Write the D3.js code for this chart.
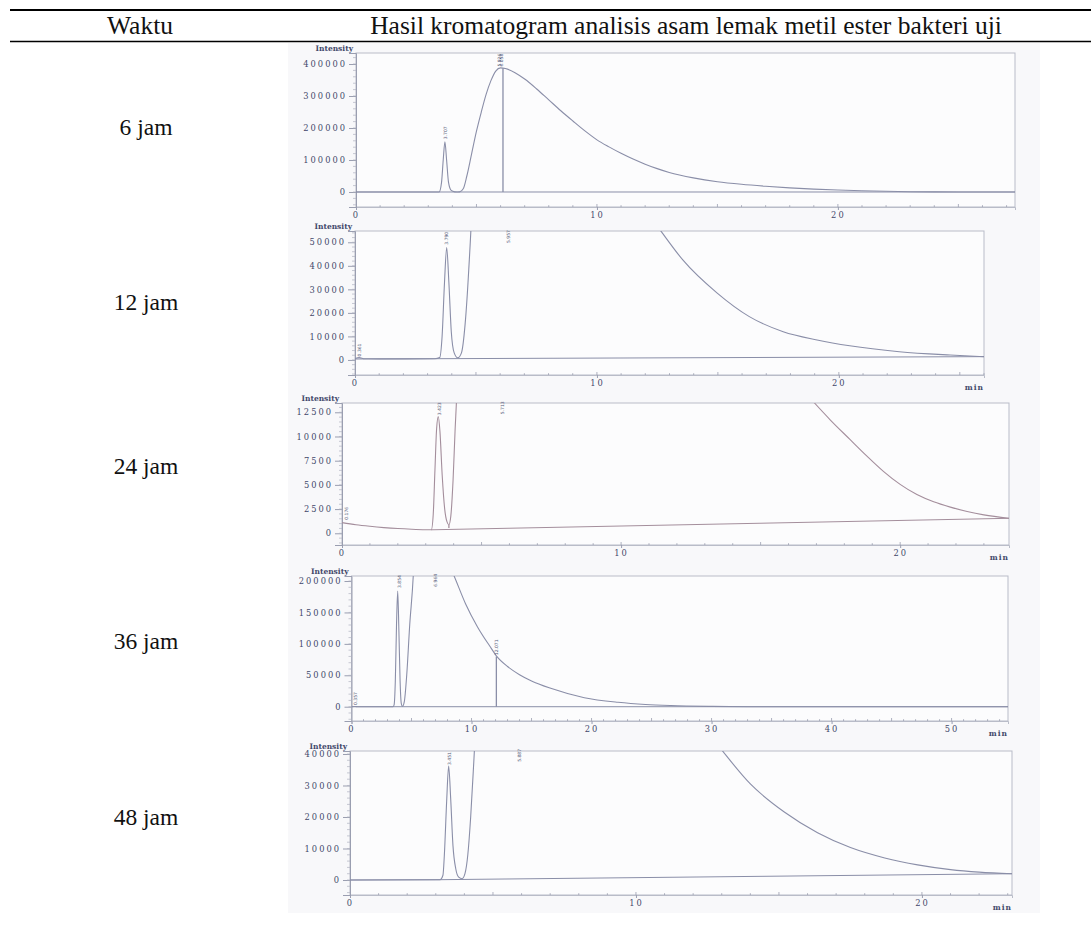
<!DOCTYPE html>
<html>
<head>
<meta charset="utf-8">
<script src="https://cdn.jsdelivr.net/npm/d3@7"></script>
<style>
  body { margin: 0; background: #fff; }
  .tick-label { font-family: "DejaVu Serif", serif; font-size: 8.3px; fill: #43486a; letter-spacing: 2px; }
  .axis-title { font-family: "DejaVu Serif", serif; font-size: 7.5px; font-weight: bold; fill: #43486a; }
  .peak-label { font-family: "DejaVu Sans", sans-serif; font-size: 4.5px; fill: #555a78; }
  .row-label { font-family: "Liberation Serif", "Times New Roman", serif; font-size: 23.5px; fill: #111; }
</style>
</head>
<body>
<svg id="chart"></svg>
<script>
// --- data ---
const headerLabels = ["Waktu", "Hasil kromatogram analisis asam lemak metil ester bakteri uji"];
const rowLabels = ["6 jam", "12 jam", "24 jam", "36 jam", "48 jam"];

// x domain (min) and y domain (intensity) of each chromatogram frame
const xDomains = [[0, 27.35], [0, 26.0], [0, 23.9], [0, 54.7], [0, 23.15]];
const yDomains = [[-46900, 434400], [-6400, 54800], [-1210, 13460], [-22750, 208000], [-4760, 40950]];

const yTicks = [
  [0, 100000, 200000, 300000, 400000],
  [0, 10000, 20000, 30000, 40000, 50000],
  [0, 2500, 5000, 7500, 10000, 12500],
  [0, 50000, 100000, 150000, 200000],
  [0, 10000, 20000, 30000, 40000]
];
const yMinorStep = [20000, 2000, 500, 10000, 2000];
const xTicks = [[0, 10, 20], [0, 10, 20], [0, 10, 20], [0, 10, 20, 30, 40, 50], [0, 10, 20]];
const showMin = [false, true, true, true, true];

// signal traces [time, intensity]
const signal6 = [[0,0],[3.3,0],[3.45,0],[3.55,30000],[3.62,100000],[3.69,157000],[3.76,100000],[3.84,30000],[3.95,5000],[4.1,500],[4.2,0],[4.3,500],[4.45,10000],[4.6,50000],[4.8,120000],[5.0,190000],[5.2,250000],[5.4,305000],[5.6,348000],[5.8,378000],[6.0,388000],[6.2,386000],[6.6,373000],[7,353000],[7.5,322000],[8,288000],[8.5,254000],[9,222000],[9.5,191000],[10,163000],[10.5,141000],[11,121000],[11.5,103000],[12,87000],[12.5,73000],[13,61000],[14,44000],[15,32000],[16,24000],[17,18000],[18,13000],[19,9000],[20,6000],[21,3800],[22,2100],[23,900],[24,250],[25,0],[27.35,0]];
const signal12 = [[0,600],[0.17,1000],[0.4,500],[1,450],[3.3,500],[3.5,1000],[3.6,10000],[3.7,33000],[3.79,47800],[3.88,33000],[3.98,12000],[4.1,3000],[4.25,900],[4.4,3000],[4.55,15000],[4.7,38000],[4.85,70000],[5.2,250000],[6.4,1500000],[10,120000],[11,84000],[12,64000],[12.7,54000],[13.55,42500],[14.96,28500],[16.3,18400],[17.7,12000],[19.1,8500],[20.45,6000],[22.5,3500],[24.6,2100],[26,1400]];
const signal24 = [[0,1100],[0.5,880],[1,720],[1.5,590],[2,490],[2.5,420],[3,370],[3.2,360],[3.27,2000],[3.33,6500],[3.39,10800],[3.45,12050],[3.51,10500],[3.59,6000],[3.68,2500],[3.76,1200],[3.83,880],[3.9,1800],[3.98,5500],[4.05,10500],[4.12,15000],[4.3,40000],[5.7,500000],[13,29000],[14,24000],[15,20000],[16,16500],[16.93,13460],[17.5,11700],[18.2,9700],[18.8,8000],[19.4,6400],[20,5050],[20.6,4000],[21.2,3250],[21.8,2700],[22.4,2250],[23,1900],[23.9,1550]];
const signal36 = [[0,0],[0.3,300],[0.5,0],[3.45,0],[3.55,3000],[3.65,40000],[3.75,130000],[3.85,184000],[3.95,120000],[4.05,40000],[4.15,5000],[4.25,500],[4.4,8000],[4.6,50000],[4.85,130000],[5.15,210000],[5.5,400000],[7.0,1500000],[8.0,232000],[8.55,208000],[9.5,164000],[10.5,127000],[11.5,97000],[12.07,81000],[13,64000],[14,51000],[15,41000],[16.6,29300],[19.4,14300],[22.2,7000],[24.5,3500],[26.6,1800],[30,500],[33,0],[54.7,0]];
const signal48 = [[0,0],[3.15,100],[3.25,1500],[3.3,8000],[3.38,25000],[3.45,36200],[3.52,26000],[3.6,11000],[3.7,3500],[3.8,900],[3.92,400],[4.02,2000],[4.12,8000],[4.22,20000],[4.32,36000],[4.4,50000],[5.9,1000000],[10,90000],[11,68000],[12,53000],[12.98,41500],[14.0,30500],[15.2,21500],[16.35,15000],[17.5,10300],[18.7,7000],[19.85,4800],[21.0,3300],[22,2500],[23.15,2000]];
const signals = [signal6, signal12, signal24, signal36, signal48];

// integration baselines drawn under the peaks
const baselines = [
  [[0,0],[27.35,0]],
  [[0,400],[26,1400]],
  [[3.2,360],[23.9,1550]],
  [[0,0],[54.7,0]],
  [[0,0],[3.15,100],[23.15,2000]]
];

// drop lines [time, from, to]
const drops = [
  [[6.1, 0, 387000]],
  [],
  [[3.83, 540, 880]],
  [[12.07, 0, 80000]],
  []
];

// retention-time labels [time, intensity at label foot, text]
const peakLabels = [
  [[3.7, 165000, "3.707"], [5.95, 392000, "5.926"], [6.05, 392000, "6.058"]],
  [[0.17, 1500, "0.361"], [3.79, 49000, "3.790"], [6.36, 49700, "5.957"]],
  [[0.17, 1400, "0.176"], [3.48, 12200, "3.423"], [5.75, 12300, "5.713"]],
  [[0.3, 2700, "0.357"], [3.96, 189000, "3.854"], [7.0, 191000, "6.964"], [12.1, 82000, "12.071"]],
  [[3.46, 36500, "3.451"], [5.91, 37500, "5.887"]]
];

// --- layout ---
const W = 1091, H = 925;
const frames = [
  { left: 356, right: 1015, top: 53, bottom: 207, labelY: 135 },
  { left: 355, right: 984, top: 231, bottom: 375, labelY: 310 },
  { left: 342, right: 1009, top: 403, bottom: 545, labelY: 474 },
  { left: 351.5, right: 1008, top: 576, bottom: 721, labelY: 649 },
  { left: 350, right: 1012, top: 751, bottom: 895, labelY: 825 }
];
const traceColors = ["#8a8ea8", "#8a8ea8", "#a48e9c", "#8a8ea8", "#8a8ea8"];

const d3 = window.d3;
const svg = d3.select("#chart").attr("width", W).attr("height", H);

svg.append("rect").attr("width", W).attr("height", H).attr("fill", "#fff");
// scanned picture area
svg.append("rect").attr("x", 288).attr("y", 43).attr("width", 752).attr("height", 870).attr("fill", "#f8f8fa");

// header
svg.append("line").attr("x1", 10).attr("x2", W).attr("y1", 10).attr("y2", 10)
  .attr("stroke", "#000").attr("stroke-width", 2);
svg.append("line").attr("x1", 10).attr("x2", W).attr("y1", 41.5).attr("y2", 41.5)
  .attr("stroke", "#000").attr("stroke-width", 1.6);
svg.append("text").attr("class", "row-label").attr("x", 140).attr("y", 34)
  .attr("text-anchor", "middle").style("font-size", "25.5px").text(headerLabels[0]);
svg.append("text").attr("class", "row-label").attr("x", 686).attr("y", 34)
  .attr("text-anchor", "middle").style("font-size", "25.5px").text(headerLabels[1]);

frames.forEach((f, i) => drawPanel(f, i));

function drawPanel(f, i) {
  const x = d3.scaleLinear().domain(xDomains[i]).range([f.left, f.right]);
  const y = d3.scaleLinear().domain(yDomains[i]).range([f.bottom, f.top]);
  const g = svg.append("g").attr("class", "panel");

  svg.append("text").attr("class", "row-label").attr("x", 146).attr("y", f.labelY)
    .attr("text-anchor", "middle").text(rowLabels[i]);

  g.append("rect").attr("x", f.left).attr("y", f.top)
    .attr("width", f.right - f.left).attr("height", f.bottom - f.top)
    .attr("fill", "#fcfcfd").attr("stroke", "#b9bcc8").attr("stroke-width", 1);

  // y axis
  const yAxis = d3.axisLeft(y).tickValues(yTicks[i]).tickSize(7).tickPadding(2).tickFormat(d3.format("d"));
  const ya = g.append("g").attr("transform", `translate(${f.left},0)`).call(yAxis);
  ya.select(".domain").attr("stroke", "#9a9eb0");
  ya.selectAll(".tick line").attr("stroke", "#9a9eb0");
  ya.selectAll(".tick text").attr("class", "tick-label").attr("font-family", null).attr("font-size", null).attr("fill", null);
  const minor = d3.range(Math.ceil(yDomains[i][0] / yMinorStep[i]) * yMinorStep[i], yDomains[i][1], yMinorStep[i]);
  g.selectAll(".yminor").data(minor).enter().append("line")
    .attr("x1", f.left - 3).attr("x2", f.left)
    .attr("y1", d => y(d)).attr("y2", d => y(d))
    .attr("stroke", "#b0b3c2").attr("stroke-width", 0.7);

  g.append("text").attr("class", "axis-title").attr("x", f.left - 3).attr("y", f.top - 2.5)
    .attr("text-anchor", "end").text("Intensity");

  // x axis
  const xAxis = d3.axisBottom(x).tickValues(xTicks[i]).tickSize(3).tickPadding(2).tickFormat(d3.format("d"));
  const xa = g.append("g").attr("transform", `translate(0,${f.bottom})`).call(xAxis);
  xa.select(".domain").attr("stroke", "#b9bcc8");
  xa.selectAll(".tick line").attr("stroke", "#9a9eb0");
  xa.selectAll(".tick text").attr("class", "tick-label").attr("font-family", null).attr("font-size", null).attr("fill", null);
  const xminor = d3.range(1, Math.floor(xDomains[i][1]) + 1);
  g.selectAll(".xminor").data(xminor).enter().append("line")
    .attr("x1", d => x(d)).attr("x2", d => x(d))
    .attr("y1", f.bottom).attr("y2", d => f.bottom - (d % 5 === 0 ? 3 : 1.8))
    .attr("stroke", "#9a9eb0").attr("stroke-width", 0.8);

  if (showMin[i]) {
    g.append("text").attr("class", "axis-title").attr("x", f.right).attr("y", f.bottom + 15)
      .attr("text-anchor", "end").style("letter-spacing", "1px").text("min");
  }

  // traces, clipped to the frame
  const clipId = "clip" + i;
  svg.append("clipPath").attr("id", clipId).append("rect")
    .attr("x", f.left).attr("y", f.top).attr("width", f.right - f.left).attr("height", f.bottom - f.top);
  const plot = g.append("g").attr("clip-path", `url(#${clipId})`);

  plot.append("path").datum(baselines[i])
    .attr("fill", "none").attr("stroke", traceColors[i]).attr("stroke-width", 1)
    .attr("d", d3.line().x(d => x(d[0])).y(d => y(d[1])));

  plot.append("path").datum(signals[i])
    .attr("fill", "none").attr("stroke", traceColors[i]).attr("stroke-width", 1.1)
    .attr("stroke-linejoin", "round")
    .attr("d", d3.line().curve(d3.curveMonotoneX).x(d => x(d[0])).y(d => y(d[1])));

  plot.selectAll(".drop").data(drops[i]).enter().append("line")
    .attr("x1", d => x(d[0])).attr("x2", d => x(d[0]))
    .attr("y1", d => y(d[1])).attr("y2", d => y(d[2]))
    .attr("stroke", traceColors[i]).attr("stroke-width", 1.3);

  g.selectAll(".peak").data(peakLabels[i]).enter().append("text")
    .attr("class", "peak-label")
    .attr("transform", d => `translate(${x(d[0]) + 1.6},${y(d[1])}) rotate(-90)`)
    .text(d => d[2]);
}
</script>
</body>
</html>
